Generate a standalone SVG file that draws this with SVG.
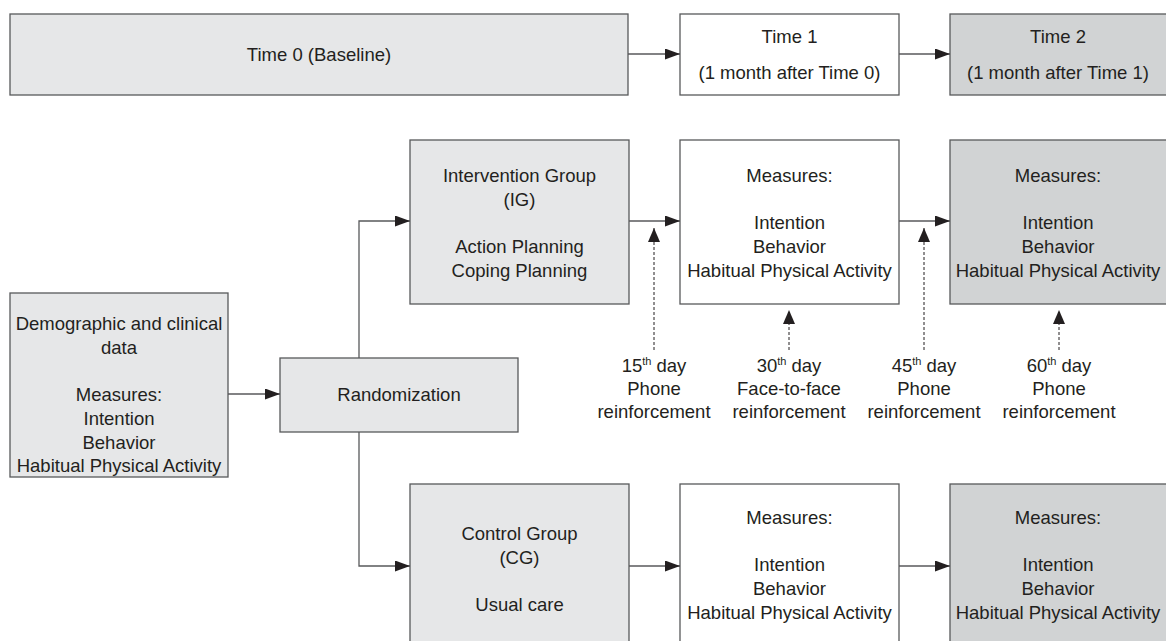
<svg xmlns="http://www.w3.org/2000/svg" width="1166" height="641" viewBox="0 0 1166 641">
<defs>
<style>
.box{stroke:#58595b;stroke-width:1.3}
.l{fill:#e6e7e8}
.w{fill:#ffffff}
.d{fill:#d1d3d4}
text{font-family:"Liberation Sans",Arial,sans-serif;font-size:18.5px;fill:#231f20;text-anchor:middle}
.c{fill:none;stroke:#58595b;stroke-width:1.3}
.dash{fill:none;stroke:#231f20;stroke-width:1;stroke-dasharray:3 2}
sup,.sup{font-size:11px}
</style>
<marker id="ah" markerWidth="15" markerHeight="11" refX="15" refY="5.5" orient="auto" markerUnits="userSpaceOnUse">
<path d="M0,0 L15,5.5 L0,11 Z" fill="#231f20"/>
</marker>
<marker id="ahd" markerWidth="14" markerHeight="12" refX="14" refY="6" orient="auto" markerUnits="userSpaceOnUse">
<path d="M0,0 L14,6 L0,12 Z" fill="#231f20"/>
</marker>
</defs>
<rect width="1166" height="641" fill="#ffffff"/>

<g id="time0"><rect class="box l" x="10" y="14" width="618" height="81"/><text x="319" y="61">Time 0 (Baseline)</text></g>
<g id="time1"><rect class="box w" x="680" y="14" width="219" height="81"/><text x="789.5" y="43">Time 1</text><text x="789.5" y="79">(1 month after Time 0)</text></g>
<g id="time2"><rect class="box d" x="950" y="14" width="230" height="81"/><text x="1058" y="43">Time 2</text><text x="1058" y="79">(1 month after Time 1)</text></g>

<g id="baseline"><rect class="box l" x="10" y="293" width="218" height="184"/>
<text x="119" y="330">Demographic and clinical</text>
<text x="119" y="354">data</text>
<text x="119" y="401">Measures:</text>
<text x="119" y="425">Intention</text>
<text x="119" y="449">Behavior</text>
<text x="119" y="472">Habitual Physical Activity</text></g>

<g id="randomization"><rect class="box l" x="280" y="358" width="238" height="74"/><text x="399" y="401">Randomization</text></g>

<g id="ig"><rect class="box l" x="410" y="140" width="219" height="164"/>
<text x="519.5" y="182">Intervention Group</text>
<text x="519.5" y="206">(IG)</text>
<text x="519.5" y="253">Action Planning</text>
<text x="519.5" y="277">Coping Planning</text></g>

<g id="ig-t1"><rect class="box w" x="680" y="140" width="219" height="164"/>
<text x="789.5" y="182">Measures:</text>
<text x="789.5" y="229">Intention</text>
<text x="789.5" y="253">Behavior</text>
<text x="789.5" y="277">Habitual Physical Activity</text></g>

<g id="ig-t2"><rect class="box d" x="950" y="140" width="230" height="164"/>
<text x="1058" y="182">Measures:</text>
<text x="1058" y="229">Intention</text>
<text x="1058" y="253">Behavior</text>
<text x="1058" y="277">Habitual Physical Activity</text></g>

<g id="cg"><rect class="box l" x="410" y="484" width="219" height="180"/>
<text x="519.5" y="540">Control Group</text>
<text x="519.5" y="564">(CG)</text>
<text x="519.5" y="611">Usual care</text></g>

<g id="cg-t1"><rect class="box w" x="680" y="484" width="219" height="180"/>
<text x="789.5" y="524">Measures:</text>
<text x="789.5" y="571">Intention</text>
<text x="789.5" y="595">Behavior</text>
<text x="789.5" y="619">Habitual Physical Activity</text></g>

<g id="cg-t2"><rect class="box d" x="950" y="484" width="230" height="180"/>
<text x="1058" y="524">Measures:</text>
<text x="1058" y="571">Intention</text>
<text x="1058" y="595">Behavior</text>
<text x="1058" y="619">Habitual Physical Activity</text></g>

<g id="r15"><text x="654" y="372">15<tspan class="sup" dy="-7">th</tspan><tspan dy="7"> day</tspan></text><text x="654" y="395">Phone</text><text x="654" y="418">reinforcement</text></g>
<g id="r30"><text x="789" y="372">30<tspan class="sup" dy="-7">th</tspan><tspan dy="7"> day</tspan></text><text x="789" y="395">Face-to-face</text><text x="789" y="418">reinforcement</text></g>
<g id="r45"><text x="924" y="372">45<tspan class="sup" dy="-7">th</tspan><tspan dy="7"> day</tspan></text><text x="924" y="395">Phone</text><text x="924" y="418">reinforcement</text></g>
<g id="r60"><text x="1059" y="372">60<tspan class="sup" dy="-7">th</tspan><tspan dy="7"> day</tspan></text><text x="1059" y="395">Phone</text><text x="1059" y="418">reinforcement</text></g>

<g id="connectors">
<path class="c" d="M628,54 H680" marker-end="url(#ah)"/>
<path class="c" d="M899,54 H950" marker-end="url(#ah)"/>
<path class="c" d="M228,394 H280" marker-end="url(#ah)"/>
<path class="c" d="M359,358 V221 H410" marker-end="url(#ah)"/>
<path class="c" d="M359,432 V566 H410" marker-end="url(#ah)"/>
<path class="c" d="M629,221 H680" marker-end="url(#ah)"/>
<path class="c" d="M899,221 H950" marker-end="url(#ah)"/>
<path class="c" d="M629,566 H680" marker-end="url(#ah)"/>
<path class="c" d="M899,566 H950" marker-end="url(#ah)"/>
<path class="dash" d="M654,350 V228" marker-end="url(#ahd)"/>
<path class="dash" d="M789,350 V310" marker-end="url(#ahd)"/>
<path class="dash" d="M924,350 V228" marker-end="url(#ahd)"/>
<path class="dash" d="M1059,350 V310" marker-end="url(#ahd)"/>
</g>
</svg>
